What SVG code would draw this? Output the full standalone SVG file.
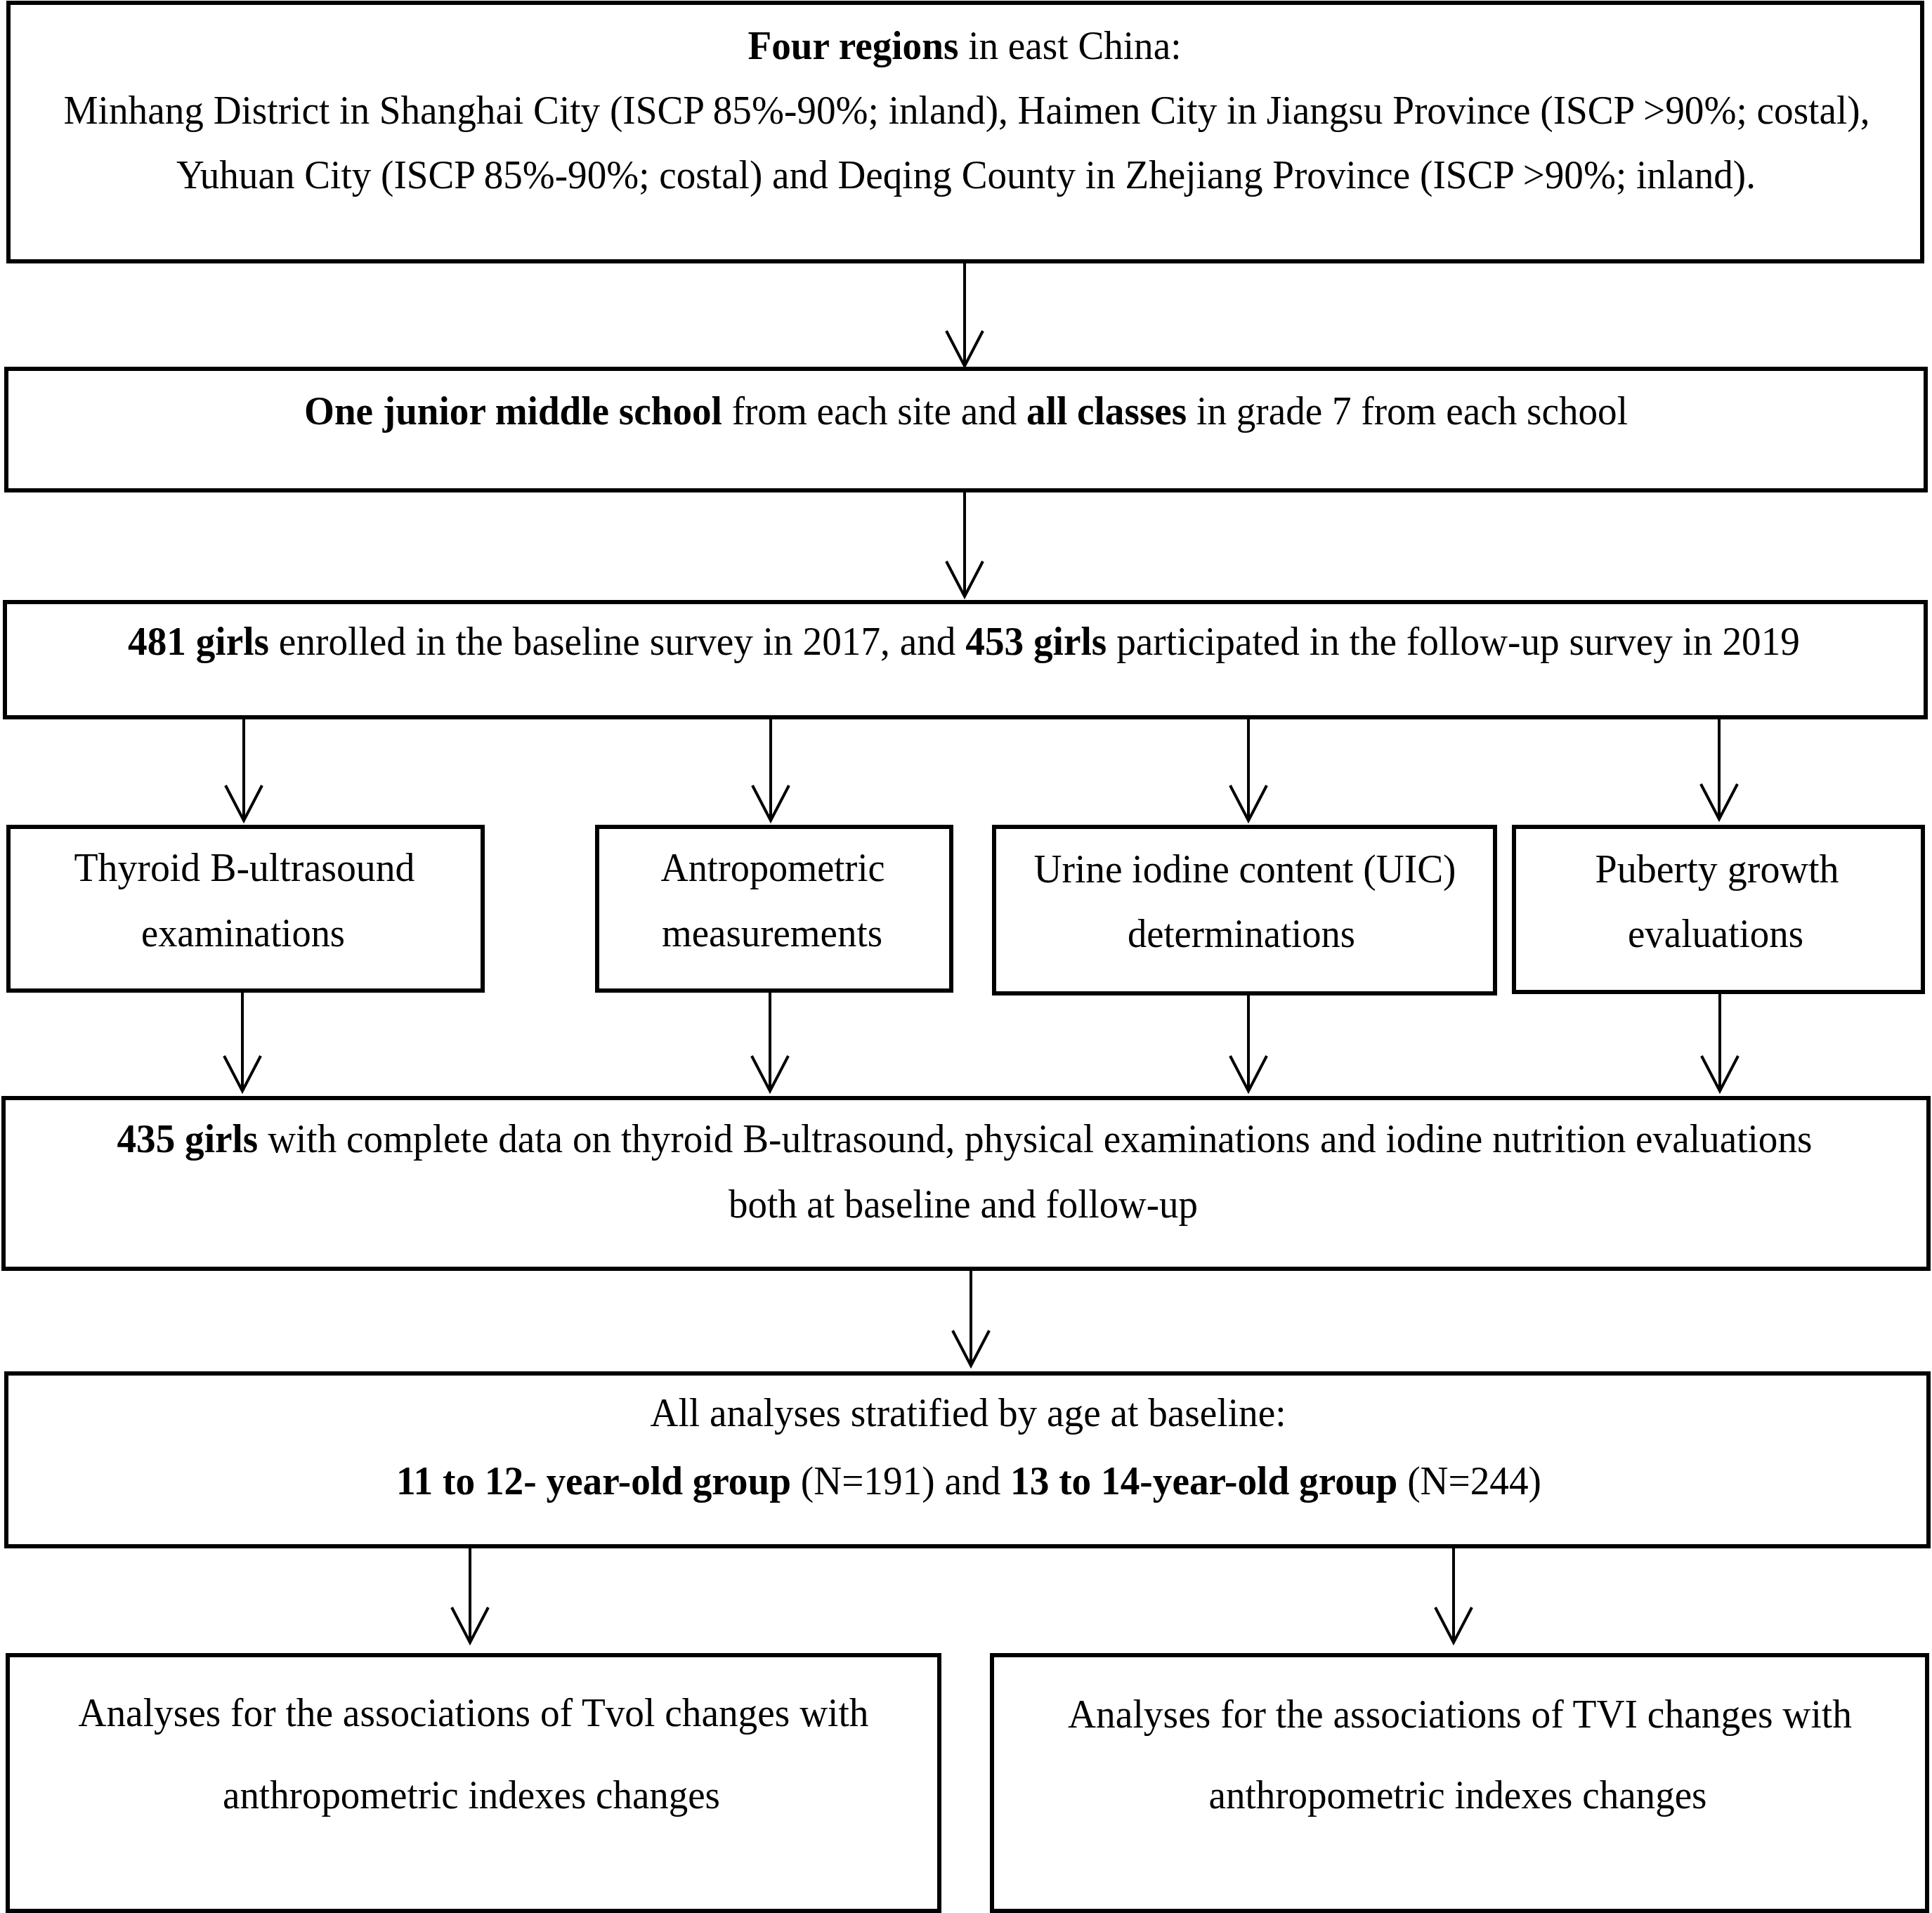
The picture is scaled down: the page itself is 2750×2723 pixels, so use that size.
<svg xmlns="http://www.w3.org/2000/svg" width="2750" height="2723" viewBox="0 0 2750 2723">
<style>
.box{fill:#fff;stroke:#000;stroke-width:6}
.t{font-family:"Liberation Serif","Times New Roman",serif;font-size:56px;fill:#000;text-anchor:middle}
.b{font-weight:bold}
.c{stroke:#000;stroke-width:4;fill:none;marker-end:url(#arr)}
</style>
<defs>
<marker id="arr" markerUnits="userSpaceOnUse" markerWidth="60" markerHeight="60" refX="0" refY="0" orient="auto" overflow="visible">
<path d="M-50,-26 L0,0 L-50,26" fill="none" stroke="#000" stroke-width="4"/>
</marker>
</defs>
<rect width="2750" height="2723" fill="#fff"/>
<g id="connectors">
<line class="c" x1="1373" y1="374" x2="1373" y2="521"/>
<line class="c" x1="1373" y1="700" x2="1373" y2="849"/>
<line class="c" x1="347" y1="1023" x2="347" y2="1168"/>
<line class="c" x1="1097" y1="1023" x2="1097" y2="1168"/>
<line class="c" x1="1777" y1="1023" x2="1777" y2="1168"/>
<line class="c" x1="2447" y1="1023" x2="2447" y2="1166"/>
<line class="c" x1="345" y1="1412" x2="345" y2="1553"/>
<line class="c" x1="1096" y1="1412" x2="1096" y2="1553"/>
<line class="c" x1="1777" y1="1416" x2="1777" y2="1553"/>
<line class="c" x1="2448" y1="1414" x2="2448" y2="1553"/>
<line class="c" x1="1382" y1="1808" x2="1382" y2="1944"/>
<line class="c" x1="669" y1="2203" x2="669" y2="2338"/>
<line class="c" x1="2069" y1="2203" x2="2069" y2="2338"/>
</g>
<g id="n1">
<rect class="box" x="12" y="4" width="2724" height="368"/>
<text class="t" x="1373" y="84" textLength="617" lengthAdjust="spacingAndGlyphs"><tspan class="b">Four regions</tspan> in east China:</text>
<text class="t" x="1376" y="176" textLength="2571" lengthAdjust="spacingAndGlyphs">Minhang District in Shanghai City (ISCP 85%-90%; inland), Haimen City in Jiangsu Province (ISCP &gt;90%; costal),</text>
<text class="t" x="1375" y="268" textLength="2248" lengthAdjust="spacingAndGlyphs">Yuhuan City (ISCP 85%-90%; costal) and Deqing County in Zhejiang Province (ISCP &gt;90%; inland).</text>
</g>
<g id="n2">
<rect class="box" x="9" y="525" width="2732" height="173"/>
<text class="t" x="1375" y="604" textLength="1884" lengthAdjust="spacingAndGlyphs"><tspan class="b">One junior middle school</tspan> from each site and <tspan class="b">all classes</tspan> in grade 7 from each school</text>
</g>
<g id="n3">
<rect class="box" x="7" y="857" width="2734" height="164"/>
<text class="t" x="1372" y="932" textLength="2380" lengthAdjust="spacingAndGlyphs"><tspan class="b">481 girls</tspan> enrolled in the baseline survey in 2017, and <tspan class="b">453 girls</tspan> participated in the follow-up survey in 2019</text>
</g>
<g id="n4">
<rect class="box" x="12" y="1177" width="675" height="233"/>
<text class="t" x="348" y="1254" textLength="485" lengthAdjust="spacingAndGlyphs">Thyroid B-ultrasound</text>
<text class="t" x="346" y="1347" textLength="290" lengthAdjust="spacingAndGlyphs">examinations</text>
</g>
<g id="n5">
<rect class="box" x="850" y="1177" width="504" height="233"/>
<text class="t" x="1100" y="1254" textLength="319" lengthAdjust="spacingAndGlyphs">Antropometric</text>
<text class="t" x="1099" y="1347" textLength="314" lengthAdjust="spacingAndGlyphs">measurements</text>
</g>
<g id="n6">
<rect class="box" x="1415" y="1177" width="713" height="237"/>
<text class="t" x="1772" y="1256" textLength="601" lengthAdjust="spacingAndGlyphs">Urine iodine content (UIC)</text>
<text class="t" x="1767" y="1348" textLength="324" lengthAdjust="spacingAndGlyphs">determinations</text>
</g>
<g id="n7">
<rect class="box" x="2155" y="1177" width="582" height="235"/>
<text class="t" x="2444" y="1256" textLength="347" lengthAdjust="spacingAndGlyphs">Puberty growth</text>
<text class="t" x="2442" y="1348" textLength="250" lengthAdjust="spacingAndGlyphs">evaluations</text>
</g>
<g id="n8">
<rect class="box" x="5" y="1563" width="2740" height="243"/>
<text class="t" x="1373" y="1640" textLength="2413" lengthAdjust="spacingAndGlyphs"><tspan class="b">435 girls</tspan> with complete data on thyroid B-ultrasound, physical examinations and iodine nutrition evaluations</text>
<text class="t" x="1371" y="1733" textLength="668" lengthAdjust="spacingAndGlyphs">both at baseline and follow-up</text>
</g>
<g id="n9">
<rect class="box" x="9" y="1955" width="2736" height="246"/>
<text class="t" x="1378" y="2030" textLength="905" lengthAdjust="spacingAndGlyphs">All analyses stratified by age at baseline:</text>
<text class="t" x="1379" y="2127" textLength="1630" lengthAdjust="spacingAndGlyphs"><tspan class="b">11 to 12- year-old group</tspan> (N=191) and <tspan class="b">13 to 14-year-old group</tspan> (N=244)</text>
</g>
<g id="n10">
<rect class="box" x="11" y="2356" width="1326" height="364"/>
<text class="t" x="674" y="2457" textLength="1125" lengthAdjust="spacingAndGlyphs">Analyses for the associations of Tvol  changes with</text>
<text class="t" x="671" y="2574" textLength="708" lengthAdjust="spacingAndGlyphs">anthropometric indexes changes</text>
</g>
<g id="n11">
<rect class="box" x="1412" y="2356" width="1331" height="364"/>
<text class="t" x="2078" y="2459" textLength="1116" lengthAdjust="spacingAndGlyphs">Analyses for the associations of TVI changes with</text>
<text class="t" x="2075" y="2574" textLength="709" lengthAdjust="spacingAndGlyphs">anthropometric indexes changes</text>
</g>
</svg>
